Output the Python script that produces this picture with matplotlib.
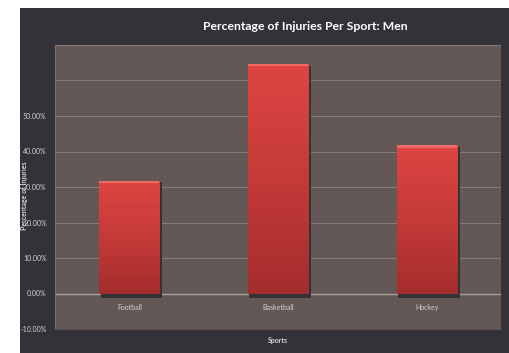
import numpy as np
import matplotlib.pyplot as plt
from matplotlib.patches import Rectangle
from matplotlib.colors import LinearSegmentedColormap

sports = ["Football", "Basketball", "Hockey"]
injury_pct = [31.7, 64.6, 41.7]
y_ticks = [-10, 0, 10, 20, 30, 40, 50, 60, 70]
y_tick_labels = ["-10.00%", "0.00%", "10.00%", "20.00%", "30.00%", "40.00%", "50.00%", "", ""]

dark_bg = "#333238"
plot_bg = "#635856"
text_col = "#d6d2d2"

plt.rcParams["font.family"] = ["Lato", "DejaVu Sans"]

fig = plt.figure(figsize=(5.1, 3.53), dpi=100)
fig.patch.set_facecolor("white")
fig.patches.append(Rectangle((20 / 510, 0), 1 - 20 / 510, 1 - 8 / 353,
                             transform=fig.transFigure, facecolor=dark_bg,
                             edgecolor="none", zorder=-10))

ax = fig.add_axes([55 / 510, 1 - 329 / 353, (501 - 55) / 510, (329 - 45) / 353])
ax.set_facecolor(plot_bg)

x = np.arange(len(sports))
width = 0.405

# shadows
for xi, v in zip(x, injury_pct):
    ax.add_patch(Rectangle((xi - width / 2 + 0.01, -1.2), width + 0.01, v + 1.2 - 0.4,
                           facecolor="#333236", edgecolor="none", zorder=2))

# bars with vertical gradient
grad = np.linspace(0, 1, 256).reshape(-1, 1)
cmap = LinearSegmentedColormap.from_list("redgrad", ["#a52d2d", "#c43a38", "#de4542"])
bars = ax.bar(x, injury_pct, width=width, color="#d04040", edgecolor="none", zorder=3)
for b in bars:
    x0, y0 = b.get_x(), b.get_y()
    im = ax.imshow(grad, cmap=cmap, origin="lower", aspect="auto",
                   extent=[x0, x0 + b.get_width(), y0, y0 + b.get_height()], zorder=4)
    im.set_clip_path(b)
    ax.add_patch(Rectangle((x0, y0 + b.get_height() - 0.6), b.get_width(), 0.6,
                           facecolor="#ef6a64", edgecolor="none", zorder=5))
ax.set_xlim(-0.5, len(sports) - 0.5)
ax.set_ylim(-10, 70)

ax.set_yticks(y_ticks)
ax.set_yticklabels(y_tick_labels)
ax.grid(axis="y", color="#857a78", linewidth=0.8)
ax.set_axisbelow(True)
ax.axhline(0, color="#a89e9c", linewidth=1.0, zorder=1)

ax.set_xticks(x)
ax.set_xticklabels(sports)
ax.tick_params(axis="both", length=0, labelsize=5, colors=text_col, pad=6)
ax.tick_params(axis="x", pad=-18)
for s in ax.spines.values():
    s.set_visible(False)
ax.spines["bottom"].set_visible(True)
ax.spines["bottom"].set_color("#5a5050")
ax.spines["left"].set_visible(True)
ax.spines["left"].set_color("#7a706e")

fig.text(305 / 510, 1 - 26 / 353, "Percentage of Injuries Per Sport: Men",
         ha="center", va="center", color="white", fontsize=8.8, fontweight="bold")
fig.text(278 / 510, 1 - 340 / 353, "Sports", ha="center", va="center",
         color=text_col, fontsize=5, fontweight="bold")
fig.text(25 / 510, 1 - 196 / 353, "Percentage of Injuries", ha="center", va="center",
         rotation=90, color=text_col, fontsize=5, fontweight="bold")

fig.savefig("out.png", dpi=100)
